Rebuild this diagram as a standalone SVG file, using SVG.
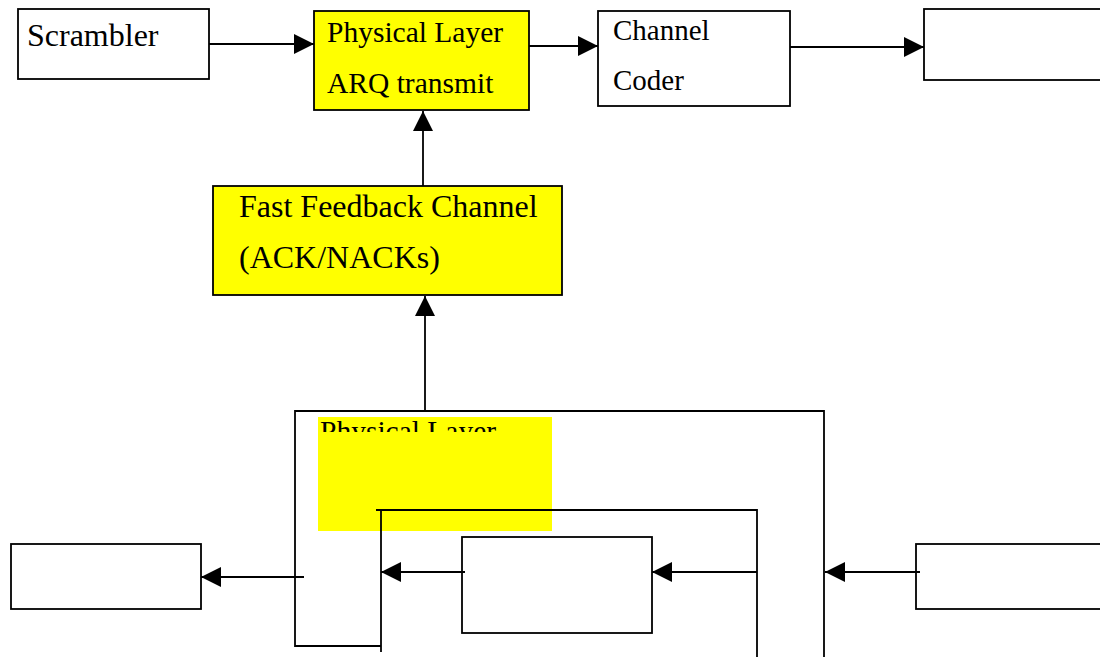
<svg xmlns="http://www.w3.org/2000/svg" width="1100" height="657" viewBox="0 0 1100 657">
<style>
.box{fill:#fff;stroke:#000;stroke-width:1.8}
.ybox{fill:#ff0;stroke:#000;stroke-width:1.8}
.ln{fill:none;stroke:#000;stroke-width:1.8}
.t{font-family:"Liberation Serif","Times New Roman",serif;fill:#000}
</style>
<defs>
<marker id="ah" markerUnits="userSpaceOnUse" markerWidth="20" markerHeight="20" refX="20" refY="10" orient="auto" viewBox="0 0 20 20">
<path d="M0,0 L20,10 L0,20 z" fill="#000"/>
</marker>
<clipPath id="clipPL"><rect x="318" y="417" width="234" height="15"/></clipPath>
</defs>
<g id="scrambler">
<rect class="box" x="18" y="9" width="191" height="70"/>
<text class="t" x="27" y="46" font-size="32">Scrambler</text>
</g>
<g id="phy-arq-tx">
<rect class="ybox" x="314" y="11" width="215" height="99"/>
<text class="t" x="327" y="42" font-size="29.5">Physical Layer</text>
<text class="t" x="327" y="93" font-size="29.5">ARQ transmit</text>
</g>
<g id="channel-coder">
<rect class="box" x="598" y="11" width="192" height="95"/>
<text class="t" x="613" y="40" font-size="29">Channel</text>
<text class="t" x="613" y="90" font-size="29">Coder</text>
</g>
<g id="top-right-box">
<rect class="box" x="924" y="9" width="200" height="71"/>
</g>
<g id="fast-feedback">
<rect class="ybox" x="213" y="186" width="349" height="109"/>
<text class="t" x="239" y="217" font-size="32">Fast Feedback Channel</text>
<text class="t" x="239" y="268" font-size="32">(ACK/NACKs)</text>
</g>
<g id="phy-rx">
<rect x="318" y="417" width="234" height="114" fill="#ff0"/>
<text class="t" x="320" y="441" font-size="29.5" clip-path="url(#clipPL)">Physical Layer</text>
</g>
<g id="inner-box">
<rect class="box" x="462" y="537" width="190" height="96"/>
</g>
<g id="left-box">
<rect class="box" x="11" y="544" width="190" height="65"/>
</g>
<g id="right-box">
<rect class="box" x="916" y="544" width="200" height="65"/>
</g>
<g id="connectors">
<line class="ln" x1="209" y1="44" x2="314" y2="44" marker-end="url(#ah)"/>
<line class="ln" x1="529" y1="46" x2="598" y2="46" marker-end="url(#ah)"/>
<line class="ln" x1="790" y1="47" x2="924" y2="47" marker-end="url(#ah)"/>
<line class="ln" x1="423" y1="186" x2="423" y2="111" marker-end="url(#ah)"/>
<line class="ln" x1="425" y1="411" x2="425" y2="296" marker-end="url(#ah)"/>
<polyline class="ln" points="824,657 824,411 295,411 295,646 381,646"/>
<polyline class="ln" points="376,510 757,510 757,657"/>
<line class="ln" x1="381" y1="510" x2="381" y2="652"/>
<line class="ln" x1="304" y1="577" x2="201" y2="577" marker-end="url(#ah)"/>
<line class="ln" x1="465" y1="572" x2="381" y2="572" marker-end="url(#ah)"/>
<line class="ln" x1="757" y1="572" x2="652" y2="572" marker-end="url(#ah)"/>
<line class="ln" x1="920" y1="572" x2="825" y2="572" marker-end="url(#ah)"/>
</g>
</svg>
